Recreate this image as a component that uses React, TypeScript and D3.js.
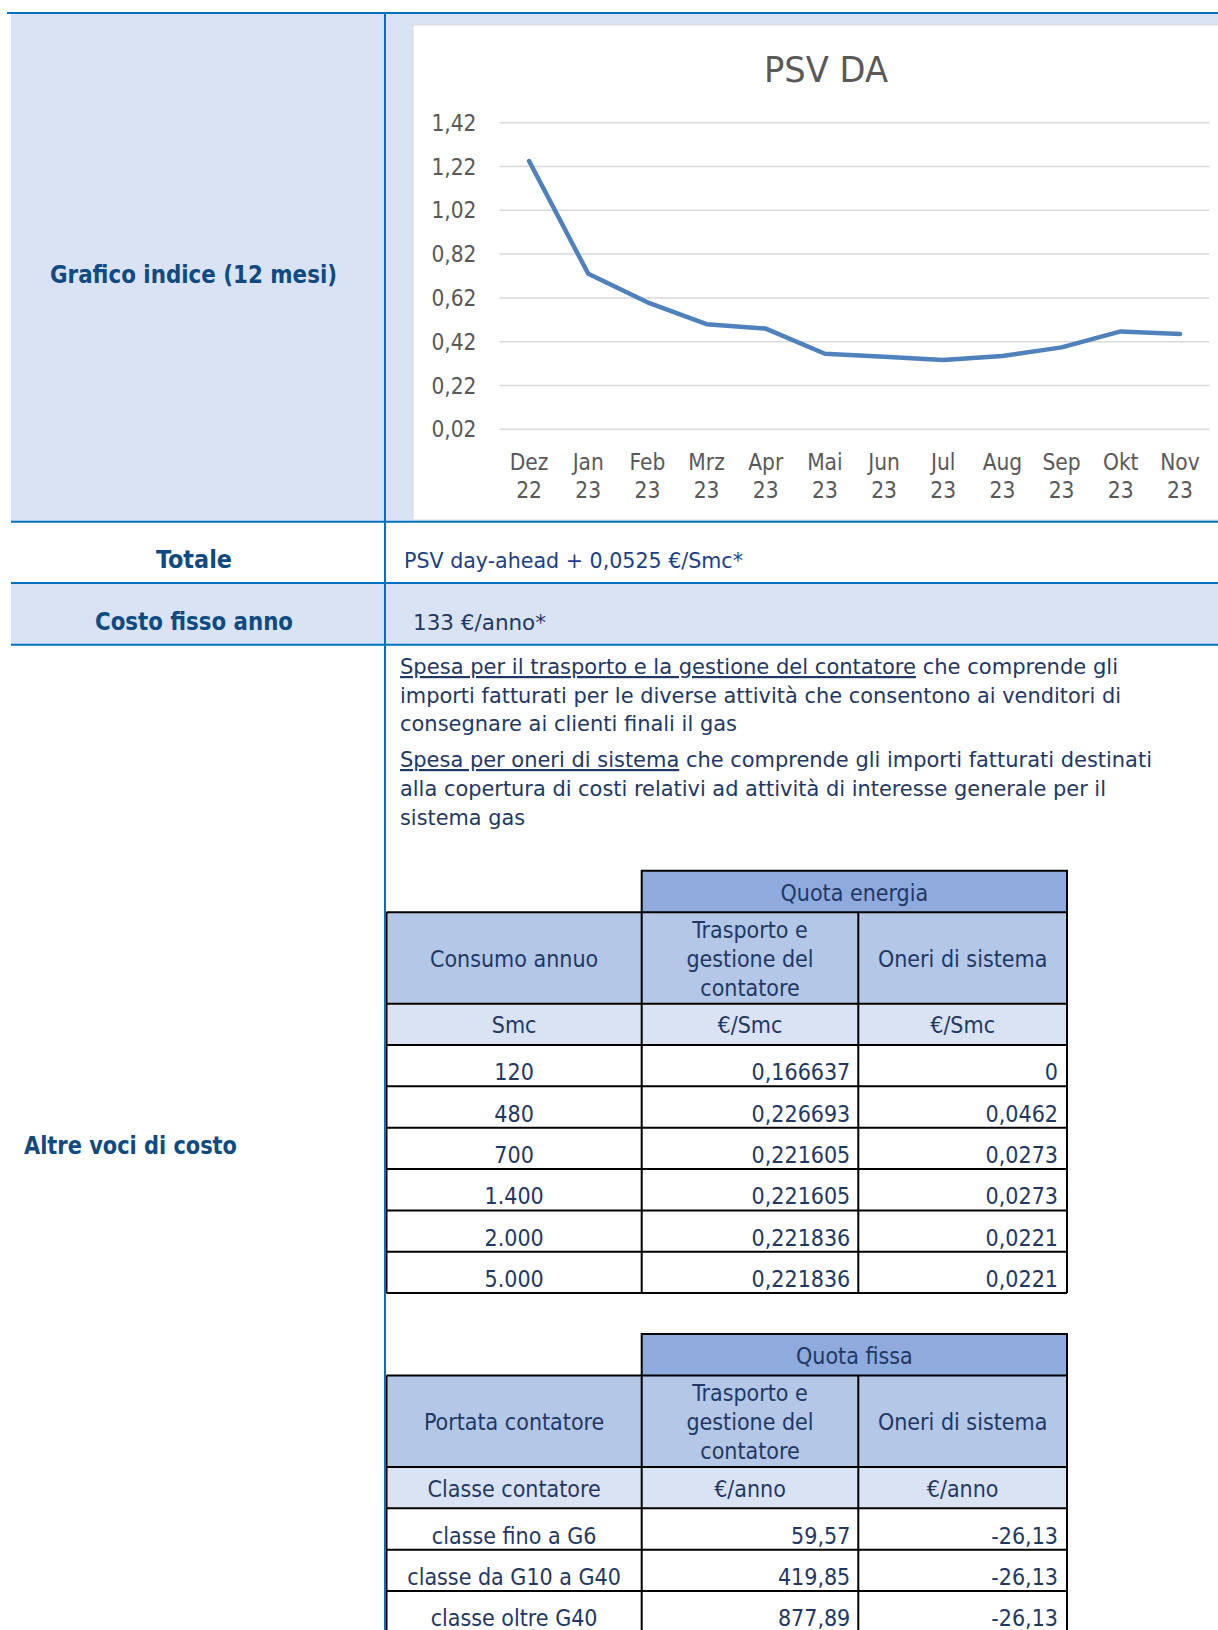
import React from 'react';
import * as d3 from 'd3';

// chart data
const monthLabels = ['Dez', 'Jan', 'Feb', 'Mrz', 'Apr', 'Mai', 'Jun', 'Jul', 'Aug', 'Sep', 'Okt', 'Nov'];
const yearLabels = ['22', '23', '23', '23', '23', '23', '23', '23', '23', '23', '23', '23'];
const psvValues = [1.245, 0.73, 0.6, 0.5, 0.48, 0.365, 0.351, 0.336, 0.355, 0.394, 0.467, 0.455];
const yTicks = [0.02, 0.22, 0.42, 0.62, 0.82, 1.02, 1.22, 1.42];

// quota energia table
const consumption = [120, 480, 700, 1400, 2000, 5000];
const energyTransport = [0.166637, 0.226693, 0.221605, 0.221605, 0.221836, 0.221836];
const energySystem = [0, 0.0462, 0.0273, 0.0273, 0.0221, 0.0221];

// quota fissa table
const meterClasses = ['classe fino a G6', 'classe da G10 a G40', 'classe oltre G40'];
const fixedTransport = [59.57, 419.85, 877.89];
const fixedSystem = [-26.13, -26.13, -26.13];

const it = d3.formatLocale({ decimal: ',', thousands: '.', grouping: [3], currency: ['', '€'], minus: '-' });
const fmtTick = it.format('.2f');
const fmtInt = it.format(',d');
const fmt6 = it.format('.6f');
const fmt4 = it.format('.4~f');
const fmt2 = it.format('.2f');

const W = 1218;
const H = 1630;
const FONT = "'DejaVu Sans Condensed', 'DejaVu Sans', sans-serif";
const BLUE = '#0070C0';
const PANEL = '#DAE3F3';
const LABEL = '#0F4B82';
const INK = '#1F3864';
const GREY = '#595959';

const paragraph = [
  { y: 674, w: 718, parts: [['Spesa per il trasporto e la gestione del contatore', true], [' che comprende gli', false]] },
  { y: 703, w: 721, parts: [['importi fatturati per le diverse attività che consentono ai venditori di', false]] },
  { y: 731, w: 337, parts: [['consegnare ai clienti finali il gas', false]] },
  { y: 767, w: 752, parts: [['Spesa per oneri di sistema', true], [' che comprende gli importi fatturati destinati', false]] },
  { y: 796, w: 706, parts: [['alla copertura di costi relativi ad attività di interesse generale per il', false]] },
  { y: 825, w: 125, parts: [['sistema gas', false]] },
];

const colX = [386.5, 641.7, 858.3, 1067];

function PriceTable({ top, group, firstHead, units, rows }) {
  const quotaH = 41.6;
  const headH = 91.4;
  const unitH = 41.3;
  const rowH = 41.35;
  const headTop = top + quotaH;
  const unitTop = headTop + headH;
  const dataTop = unitTop + unitH;
  const bottom = dataTop + rows.length * rowH;
  const fs = 23;
  const txt = { fontFamily: FONT, fontStretch: 'condensed', fontSize: fs, fill: INK } as const;
  const c1 = (colX[0] + colX[1]) / 2;
  const c2 = (colX[1] + colX[2]) / 2;
  const c3 = (colX[2] + colX[3]) / 2;
  const headMid = headTop + headH / 2;
  return (
    <g>
      <rect x={colX[1]} y={top} width={colX[3] - colX[1]} height={quotaH} fill="#8FAADC" />
      <rect x={colX[0]} y={headTop} width={colX[3] - colX[0]} height={headH} fill="#B4C7E7" />
      <rect x={colX[0]} y={unitTop} width={colX[3] - colX[0]} height={unitH} fill={PANEL} />
      <rect x={colX[0]} y={dataTop} width={colX[3] - colX[0]} height={bottom - dataTop} fill="#fff" />
      <text {...txt} x={(colX[1] + colX[3]) / 2} y={top + quotaH / 2 + 9} textAnchor="middle">{group}</text>
      <text {...txt} x={c1} y={headMid + 9} textAnchor="middle">{firstHead}</text>
      {['Trasporto e', 'gestione del', 'contatore'].map((s, i) => (
        <text key={s} {...txt} x={c2} y={headMid + 9 + (i - 1) * 29} textAnchor="middle">{s}</text>
      ))}
      <text {...txt} x={c3} y={headMid + 9} textAnchor="middle">Oneri di sistema</text>
      {units.map((u, i) => (
        <text key={i} {...txt} x={[c1, c2, c3][i]} y={unitTop + unitH / 2 + 9} textAnchor="middle">{u}</text>
      ))}
      {rows.map((r, i) => {
        const base = dataTop + (i + 1) * rowH - 6;
        return (
          <g key={i}>
            <text {...txt} x={c1} y={base} textAnchor="middle">{r[0]}</text>
            <text {...txt} x={colX[2] - 8} y={base} textAnchor="end">{r[1]}</text>
            <text {...txt} x={colX[3] - 9} y={base} textAnchor="end">{r[2]}</text>
          </g>
        );
      })}
      {/* borders */}
      <g stroke="#000" strokeWidth={2} fill="none">
        <path d={`M${colX[1]},${headTop}V${top}H${colX[3]}V${bottom}`} />
        <line x1={colX[0]} x2={colX[3]} y1={headTop} y2={headTop} />
        <line x1={colX[0]} x2={colX[3]} y1={unitTop} y2={unitTop} />
        {rows.map((_, i) => (
          <line key={i} x1={colX[0]} x2={colX[3]} y1={dataTop + i * rowH} y2={dataTop + i * rowH} />
        ))}
        <line x1={colX[0]} x2={colX[3]} y1={bottom} y2={bottom} />
        <line x1={colX[0]} x2={colX[0]} y1={headTop} y2={bottom} />
        <line x1={colX[1]} x2={colX[1]} y1={headTop} y2={bottom} />
        <line x1={colX[2]} x2={colX[2]} y1={headTop} y2={bottom} />
      </g>
    </g>
  );
}

export default function App() {
  const x = d3.scalePoint<number>().domain(d3.range(monthLabels.length)).range([499.5, 1209.5]).padding(0.5);
  const y = d3.scaleLinear().domain([0.02, 1.42]).range([429.3, 122.7]);
  const line = d3.line<number>().x((_, i) => x(i) as number).y((d) => y(d));

  const chartTxt = { fontFamily: FONT, fontStretch: 'condensed', fontSize: 22.5, fill: GREY } as const;
  const labelTxt = { fontFamily: FONT, fontStretch: 'condensed', fontSize: 24, fontWeight: 700, fill: LABEL } as const;
  const bodyTxt = { fontFamily: FONT, fontStretch: 'condensed', fontSize: 22, fill: INK } as const;

  const energyRows = consumption.map((c, i) => [fmtInt(c), fmt6(energyTransport[i]), fmt4(energySystem[i])]);
  const fixedRows = meterClasses.map((c, i) => [c, fmt2(fixedTransport[i]), fmt2(fixedSystem[i])]);

  return (
    <svg width={W} height={H} style={{ position: 'absolute', left: 0, top: 0, background: '#fff' }}>
      {/* row backgrounds */}
      <rect x={11} y={13} width={W - 11} height={521.7 - 13} fill={PANEL} />
      <rect x={11} y={583} width={W - 11} height={644.7 - 583} fill={PANEL} />

      {/* chart box */}
      <rect x={413} y={25} width={W - 413 + 4} height={495} fill="#fff" stroke="#D9D9D9" strokeWidth={1} />
      <text {...chartTxt} fontSize={36} x={826} y={82} textAnchor="middle" textLength={124} lengthAdjust="spacingAndGlyphs">PSV DA</text>
      {yTicks.map((t) => (
        <g key={t}>
          <line x1={499.5} x2={1209.5} y1={y(t)} y2={y(t)} stroke="#D9D9D9" strokeWidth={1.5} />
          <text {...chartTxt} x={476.5} y={y(t) + 8} textAnchor="end">{fmtTick(t)}</text>
        </g>
      ))}
      {monthLabels.map((m, i) => (
        <g key={m}>
          <text {...chartTxt} x={x(i)} y={470} textAnchor="middle">{m}</text>
          <text {...chartTxt} x={x(i)} y={498} textAnchor="middle">{yearLabels[i]}</text>
        </g>
      ))}
      <path d={line(psvValues) || ''} fill="none" stroke="#4F81BD" strokeWidth={4.5} strokeLinejoin="round" strokeLinecap="round" />

      {/* left labels */}
      <text {...labelTxt} x={193.5} y={283} textAnchor="middle" textLength={287} lengthAdjust="spacingAndGlyphs">Grafico indice (12 mesi)</text>
      <text {...labelTxt} x={194} y={568} textAnchor="middle" textLength={76} lengthAdjust="spacingAndGlyphs">Totale</text>
      <text {...labelTxt} x={194} y={630} textAnchor="middle" textLength={198} lengthAdjust="spacingAndGlyphs">Costo fisso anno</text>
      <text {...labelTxt} x={24} y={1154} textLength={213} lengthAdjust="spacingAndGlyphs">Altre voci di costo</text>

      {/* right column texts */}
      <text {...bodyTxt} fill="#203F86" x={404} y={568} textLength={339} lengthAdjust="spacingAndGlyphs">PSV day-ahead + 0,0525 €/Smc*</text>
      <text {...bodyTxt} x={413} y={630} textLength={133} lengthAdjust="spacingAndGlyphs">133 €/anno*</text>
      {paragraph.map((p, i) => (
        <text key={i} {...bodyTxt} x={400} y={p.y} textLength={p.w} lengthAdjust="spacingAndGlyphs">
          {p.parts.map(([s, u], j) => (
            <tspan key={j} textDecoration={u ? 'underline' : undefined}>{s as string}</tspan>
          ))}
        </text>
      ))}

      <PriceTable top={870.7} group="Quota energia" firstHead="Consumo annuo" units={['Smc', '€/Smc', '€/Smc']} rows={energyRows} />
      <PriceTable top={1334} group="Quota fissa" firstHead="Portata contatore" units={['Classe contatore', '€/anno', '€/anno']} rows={fixedRows} />

      {/* blue grid lines */}
      <g stroke={BLUE} strokeWidth={2}>
        <line x1={7} x2={W} y1={13} y2={13} />
        <line x1={11} x2={W} y1={521.7} y2={521.7} />
        <line x1={11} x2={W} y1={583} y2={583} />
        <line x1={11} x2={W} y1={644.7} y2={644.7} />
        <line x1={385} x2={385} y1={13} y2={H} />
      </g>
    </svg>
  );
}
